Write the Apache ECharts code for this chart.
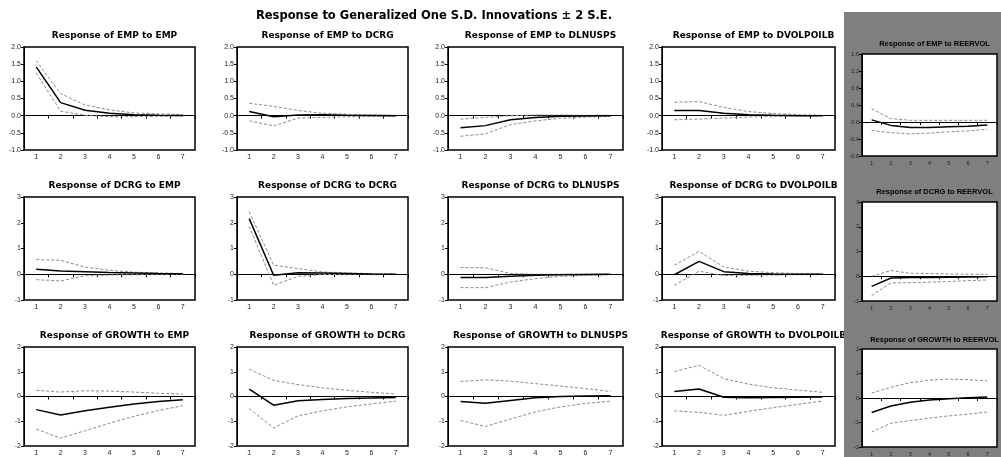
<!DOCTYPE html>
<html><head><meta charset="utf-8">
<script src="https://cdn.jsdelivr.net/npm/echarts@6/dist/echarts.min.js"></script>
<style>html,body{margin:0;padding:0;background:#fff}#c{width:1001px;height:457px}</style>
</head><body><div id="c"></div>
<script>
const mainTitle = 'Response to Generalized One S.D. Innovations \u00B1 2 S.E.';
const categories = ['1','2','3','4','5','6','7'];
const responseVars = ['EMP','DCRG','GROWTH'];
const impulseVars = ['EMP','DCRG','DLNUSPS','DVOLPOILB','REERVOL'];

// Response of EMP
const EMP_EMP_resp = [1.42,0.38,0.16,0.07,0.03,0.01,0.005];
const EMP_EMP_up   = [1.60,0.64,0.31,0.17,0.08,0.05,0.03];
const EMP_EMP_lo   = [1.24,0.13,0.01,-0.03,-0.03,-0.02,-0.01];
const EMP_DCRG_resp = [0.12,-0.03,0.02,0.03,0.01,0.005,0.0];
const EMP_DCRG_up   = [0.36,0.27,0.15,0.07,0.04,0.02,0.01];
const EMP_DCRG_lo   = [-0.15,-0.30,-0.07,-0.05,-0.03,-0.02,-0.01];
const EMP_DLNUSPS_resp = [-0.35,-0.29,-0.12,-0.05,-0.02,-0.01,0.0];
const EMP_DLNUSPS_up   = [-0.10,-0.05,0.0,0.02,0.02,0.01,0.01];
const EMP_DLNUSPS_lo   = [-0.60,-0.53,-0.26,-0.15,-0.08,-0.04,-0.02];
const EMP_DVOLPOILB_resp = [0.15,0.15,0.07,0.03,0.01,0.0,0.0];
const EMP_DVOLPOILB_up   = [0.39,0.41,0.24,0.12,0.06,0.03,0.01];
const EMP_DVOLPOILB_lo   = [-0.12,-0.10,-0.07,-0.04,-0.02,-0.01,0.0];
const EMP_REERVOL_resp = [0.05,-0.08,-0.13,-0.13,-0.11,-0.10,-0.07];
const EMP_REERVOL_up   = [0.31,0.08,0.04,0.04,0.04,0.04,0.04];
const EMP_REERVOL_lo   = [-0.20,-0.25,-0.28,-0.26,-0.23,-0.21,-0.17];

// Response of DCRG
const DCRG_EMP_resp = [0.19,0.13,0.10,0.07,0.05,0.03,0.02];
const DCRG_EMP_up   = [0.57,0.54,0.28,0.15,0.08,0.05,0.03];
const DCRG_EMP_lo   = [-0.21,-0.26,-0.06,-0.03,-0.02,-0.01,-0.01];
const DCRG_DCRG_resp = [2.16,-0.04,0.06,0.05,0.03,0.01,0.0];
const DCRG_DCRG_up   = [2.43,0.35,0.22,0.09,0.05,0.02,0.01];
const DCRG_DCRG_lo   = [1.86,-0.43,-0.08,-0.01,-0.01,-0.01,-0.01];
const DCRG_DLNUSPS_resp = [-0.13,-0.13,-0.08,-0.04,-0.02,-0.01,0.0];
const DCRG_DLNUSPS_up   = [0.26,0.25,0.03,0.0,0.0,0.0,0.0];
const DCRG_DLNUSPS_lo   = [-0.52,-0.52,-0.30,-0.17,-0.08,-0.04,-0.02];
const DCRG_DVOLPOILB_resp = [-0.02,0.50,0.10,0.03,0.01,0.0,0.0];
const DCRG_DVOLPOILB_up   = [0.35,0.89,0.28,0.12,0.06,0.03,0.02];
const DCRG_DVOLPOILB_lo   = [-0.43,0.12,-0.05,-0.04,-0.03,-0.02,-0.01];
const DCRG_REERVOL_resp = [-0.41,-0.07,-0.05,-0.05,-0.04,-0.03,-0.02];
const DCRG_REERVOL_up   = [0.0,0.23,0.12,0.11,0.09,0.08,0.07];
const DCRG_REERVOL_lo   = [-0.78,-0.27,-0.26,-0.24,-0.21,-0.18,-0.15];

// Response of GROWTH
const GROWTH_EMP_resp = [-0.53,-0.75,-0.58,-0.43,-0.30,-0.20,-0.13];
const GROWTH_EMP_up   = [0.25,0.18,0.23,0.22,0.18,0.13,0.10];
const GROWTH_EMP_lo   = [-1.32,-1.68,-1.38,-1.08,-0.80,-0.57,-0.37];
const GROWTH_DCRG_resp = [0.30,-0.35,-0.17,-0.12,-0.08,-0.06,-0.04];
const GROWTH_DCRG_up   = [1.10,0.65,0.48,0.35,0.25,0.17,0.10];
const GROWTH_DCRG_lo   = [-0.49,-1.27,-0.78,-0.58,-0.42,-0.30,-0.19];
const GROWTH_DLNUSPS_resp = [-0.20,-0.27,-0.16,-0.05,0.0,0.02,0.03];
const GROWTH_DLNUSPS_up   = [0.61,0.67,0.62,0.52,0.42,0.32,0.20];
const GROWTH_DLNUSPS_lo   = [-0.97,-1.21,-0.91,-0.62,-0.42,-0.28,-0.19];
const GROWTH_DVOLPOILB_resp = [0.20,0.30,-0.03,-0.05,-0.04,-0.03,-0.02];
const GROWTH_DVOLPOILB_up   = [1.01,1.26,0.72,0.50,0.35,0.26,0.17];
const GROWTH_DVOLPOILB_lo   = [-0.58,-0.64,-0.76,-0.60,-0.45,-0.32,-0.18];
const GROWTH_REERVOL_resp = [-0.59,-0.33,-0.17,-0.08,-0.03,0.01,0.04];
const GROWTH_REERVOL_up   = [0.20,0.44,0.63,0.73,0.77,0.75,0.70];
const GROWTH_REERVOL_lo   = [-1.39,-1.03,-0.92,-0.82,-0.73,-0.66,-0.57];

// Y axis scales per row (columns 1-4, then column 5)
const yMin = [-1, -1, -2], yMax = [2, 3, 2], yStep = [0.5, 1, 1], yDigits = [1, 0, 0];
const yMin5 = [-0.8, -1, -2], yMax5 = [1.6, 3, 2], yStep5 = [0.4, 1, 1], yDigits5 = [1, 0, 0];

const panelData = {
  EMP_EMP:[EMP_EMP_resp,EMP_EMP_up,EMP_EMP_lo],
  EMP_DCRG:[EMP_DCRG_resp,EMP_DCRG_up,EMP_DCRG_lo],
  EMP_DLNUSPS:[EMP_DLNUSPS_resp,EMP_DLNUSPS_up,EMP_DLNUSPS_lo],
  EMP_DVOLPOILB:[EMP_DVOLPOILB_resp,EMP_DVOLPOILB_up,EMP_DVOLPOILB_lo],
  EMP_REERVOL:[EMP_REERVOL_resp,EMP_REERVOL_up,EMP_REERVOL_lo],
  DCRG_EMP:[DCRG_EMP_resp,DCRG_EMP_up,DCRG_EMP_lo],
  DCRG_DCRG:[DCRG_DCRG_resp,DCRG_DCRG_up,DCRG_DCRG_lo],
  DCRG_DLNUSPS:[DCRG_DLNUSPS_resp,DCRG_DLNUSPS_up,DCRG_DLNUSPS_lo],
  DCRG_DVOLPOILB:[DCRG_DVOLPOILB_resp,DCRG_DVOLPOILB_up,DCRG_DVOLPOILB_lo],
  DCRG_REERVOL:[DCRG_REERVOL_resp,DCRG_REERVOL_up,DCRG_REERVOL_lo],
  GROWTH_EMP:[GROWTH_EMP_resp,GROWTH_EMP_up,GROWTH_EMP_lo],
  GROWTH_DCRG:[GROWTH_DCRG_resp,GROWTH_DCRG_up,GROWTH_DCRG_lo],
  GROWTH_DLNUSPS:[GROWTH_DLNUSPS_resp,GROWTH_DLNUSPS_up,GROWTH_DLNUSPS_lo],
  GROWTH_DVOLPOILB:[GROWTH_DVOLPOILB_resp,GROWTH_DVOLPOILB_up,GROWTH_DVOLPOILB_lo],
  GROWTH_REERVOL:[GROWTH_REERVOL_resp,GROWTH_REERVOL_up,GROWTH_REERVOL_lo]
};

// Layout
const colLeft = [24, 237, 448, 662], colWidth = [171, 171, 175, 173];
const rowTop = [47, 197, 347], rowH = 103;
const c5Left = 862, c5Width = 135, c5Top = [54, 202, 349], c5H = [102, 99, 101];

const grids = [], xAxes = [], yAxes = [], series = [], titles = [];
titles.push({text: mainTitle, left: 429, top: 5, textAlign: 'center',
  textStyle: {fontFamily: 'DejaVu Sans', fontWeight: 'bold', fontSize: 11.5, color: '#000'}});

let gi = 0;
responseVars.forEach((rv, r) => {
  impulseVars.forEach((iv, c) => {
    const is5 = c === 4;
    const left = is5 ? c5Left : colLeft[c];
    const width = is5 ? c5Width : colWidth[c];
    const top = is5 ? c5Top[r] : rowTop[r];
    const height = is5 ? c5H[r] : rowH;
    const z = is5 ? 10 : 2;
    grids.push({left, top, width, height, show: true, backgroundColor: '#fff',
      borderColor: '#000', borderWidth: 1.5, z: z, containLabel: false});
    const fs = is5 ? 5.5 : 7;
    xAxes.push({type: 'category', gridIndex: gi, data: categories, boundaryGap: true, z: z+1,
      axisLine: {show: true, lineStyle: {color: '#000', width: 1}},
      axisTick: {show: true, length: 3, lineStyle: {color: '#000'}},
      axisLabel: {fontSize: fs, color: '#222', margin: 4, fontFamily: 'Liberation Sans'},
      splitLine: {show: false}});
    const dg = is5 ? yDigits5[r] : yDigits[r];
    yAxes.push({type: 'value', gridIndex: gi, z: z+1,
      min: is5 ? yMin5[r] : yMin[r], max: is5 ? yMax5[r] : yMax[r], interval: is5 ? yStep5[r] : yStep[r],
      axisLine: {show: true, lineStyle: {color: '#000', width: 1}},
      axisTick: {show: true, length: 3, lineStyle: {color: '#000'}},
      axisLabel: {fontSize: fs, color: '#222', margin: 3, fontFamily: 'Liberation Sans',
        formatter: v => (Math.abs(v) < 1e-9 ? 0 : v).toFixed(dg)},
      splitLine: {show: false}});
    const d = panelData[rv + '_' + iv];
    const band = {color: '#8a8a8a', width: 1, type: [3, 2]};
    series.push({type: 'line', xAxisIndex: gi, yAxisIndex: gi, data: d[1], symbol: 'none', z: z+3,
      lineStyle: band, silent: true, animation: false});
    series.push({type: 'line', xAxisIndex: gi, yAxisIndex: gi, data: d[2], symbol: 'none', z: z+3,
      lineStyle: band, silent: true, animation: false});
    series.push({type: 'line', xAxisIndex: gi, yAxisIndex: gi, data: d[0], symbol: 'none', z: z+4,
      lineStyle: {color: '#000', width: 1.5}, silent: true, animation: false,
      markLine: {silent: true, symbol: 'none', label: {show: false}, animation: false,
        lineStyle: {color: '#000', width: 1, type: 'solid'}, data: [{yAxis: 0}]}});
    titles.push({text: 'Response of ' + rv + ' to ' + iv, left: left + width / 2, textAlign: 'center',
      top: is5 ? [35, 183, 331][r] : [26, 176, 326][r], z: z + 5,
      textStyle: is5 ? {fontFamily: 'Liberation Sans', fontWeight: 'bold', fontSize: 7.5, color: '#000'}
                     : {fontFamily: 'DejaVu Sans', fontWeight: 'bold', fontSize: 9, color: '#000'}});
    gi++;
  });
});

const chart = echarts.init(document.getElementById('c'), null, {renderer: 'canvas'});
chart.setOption({
  animation: false,
  backgroundColor: '#fff',
  title: titles,
  graphic: [{type: 'rect', shape: {x: 844, y: 12, width: 157, height: 445}, style: {fill: '#7f7f7f'}, z: 8, silent: true}],
  grid: grids, xAxis: xAxes, yAxis: yAxes, series: series
});
</script></body></html>
